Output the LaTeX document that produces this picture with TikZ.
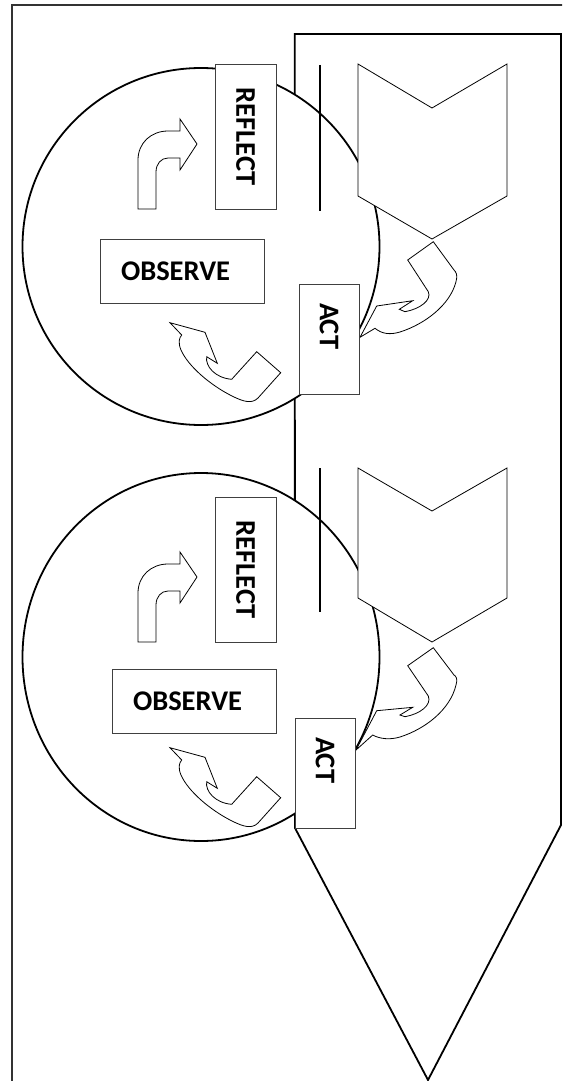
\documentclass[tikz,border=0pt]{standalone}
\usepackage{fontspec}
\setmainfont{Carlito}
\begin{document}
\begin{tikzpicture}[x=1pt,y=-1pt,
  frame/.style={draw=black!80, line width=2pt},
  bigarrow/.style={draw=black, line width=1.8pt, fill=white, line join=miter},
  ring/.style={draw=black, line width=1.8pt, fill=white},
  chev/.style={draw=black, line width=0.8pt, fill=white},
  bar/.style={draw=black, line width=1.8pt},
  shapearrow/.style={draw=black, line width=0.8pt, fill=white, line join=miter},
  lbl/.style={draw=black!75, line width=0.9pt, fill=white, inner sep=0pt,
    font=\bfseries\fontsize{28.5}{30}\selectfont}]
\useasboundingbox (0,0) rectangle (562,1081);
\clip (0,0) rectangle (562,1081);
\fill[white] (0,0) rectangle (562,1081);

% outer frame
\draw[frame] (12,5) rectangle (620,1120);

% large pentagon arrow pointing down
\draw[bigarrow] (294.7,34) -- (561,34) -- (561,825) -- (428,1080) -- (295,828) -- cycle;

% ---------- upper cycle ----------
\draw[ring] (201,246.5) ellipse [x radius=178.5pt, y radius=178.5pt];
\draw[bar] (320,65) -- (320,211);
\draw[chev] (358,64) -- (432,108) -- (507,64) -- (507,196) -- (432,239) -- (358,196) -- cycle;

% bent arrow towards REFLECT
\draw[shapearrow] (138,209) -- (138,160) .. controls (138,143) and (151,131) .. (168,131)
  -- (180,131) -- (180,119) -- (197,144) -- (180,170) -- (180,158) -- (168,158)
  .. controls (161,158) and (156,164) .. (156,172) -- (156,209) -- cycle;

% curved arrow from ACT back to OBSERVE
\draw[shapearrow] (170,322.7) -- (205,332.3) -- (217.3,363.3) -- (206.7,356.7)
  .. controls (205,366) and (215,378) .. (231.7,379.3) -- (256.7,351.7) -- (280.7,372.7)
  -- (258,398) .. controls (252,404) and (244,402) .. (232,396)
  .. controls (210,385) and (188,366) .. (181,350) .. controls (178,343) and (179,338) .. (181.7,335) -- cycle;

% curved arrow from the chevron into ACT
\draw[shapearrow] (433.3,241.7) -- (407.7,260) -- (428.3,291.7)
  .. controls (432,300) and (420,309) .. (405,311.7) -- (399.3,309.3) -- (412.7,300.7)
  -- (376.7,306) -- (360,337.3) -- (375,328.3)
  .. controls (382,334) and (390,335) .. (400,332)
  .. controls (425,324) and (450,305) .. (456,281.7)
  .. controls (458,275) and (456,272) .. (454,270) -- cycle;

\node[lbl, minimum height=64pt, text width=122pt, inner xsep=21pt, align=left] (observe1) at (182,271) {OBSERVE};
\node[lbl, rotate=-90, minimum width=145pt, minimum height=61pt] (reflect1) at (245.5,136.5) {REFLECT};
\node[lbl, rotate=-90, minimum height=60pt, text width=72pt, inner xsep=19pt, align=left] (act1) at (329,339) {ACT};

% ---------- lower cycle ----------
\draw[ring] (201,657) ellipse [x radius=178.5pt, y radius=184pt];
\draw[bar] (320,468) -- (320,612);
\draw[chev] (358,468) -- (432,511) -- (507,468) -- (507,598) -- (432,642) -- (358,598) -- cycle;

\begin{scope}[yshift=-433pt]
\draw[shapearrow] (138,209) -- (138,160) .. controls (138,143) and (151,131) .. (168,131)
  -- (180,131) -- (180,119) -- (197,144) -- (180,170) -- (180,158) -- (168,158)
  .. controls (161,158) and (156,164) .. (156,172) -- (156,209) -- cycle;
\end{scope}

\begin{scope}[yshift=-425pt]
\draw[shapearrow] (170,322.7) -- (205,332.3) -- (217.3,363.3) -- (206.7,356.7)
  .. controls (205,366) and (215,378) .. (231.7,379.3) -- (256.7,351.7) -- (280.7,372.7)
  -- (258,398) .. controls (252,404) and (244,402) .. (232,396)
  .. controls (210,385) and (188,366) .. (181,350) .. controls (178,343) and (179,338) .. (181.7,335) -- cycle;
\end{scope}

\draw[shapearrow] (433.3,647.7) -- (407.7,665.7) -- (428.3,696)
  .. controls (432,705) and (420,714) .. (405,716.7) -- (400,715) -- (412.7,707.3)
  -- (376.7,710.7) -- (356,750) -- (372.7,735)
  .. controls (380,739) and (390,740) .. (400,737)
  .. controls (425,729) and (450,710) .. (456,685)
  .. controls (458,679) and (456,676) .. (454,675) -- cycle;

\node[lbl, minimum height=64pt, text width=122pt, inner xsep=21pt, align=left] (observe2) at (194,701) {OBSERVE};
\node[lbl, rotate=-90, minimum width=145pt, minimum height=61pt] (reflect2) at (245.5,569.5) {REFLECT};
\node[lbl, rotate=-90, minimum height=60pt, text width=72pt, inner xsep=19pt, align=left] (act2) at (325,773) {ACT};
\end{tikzpicture}
\end{document}
